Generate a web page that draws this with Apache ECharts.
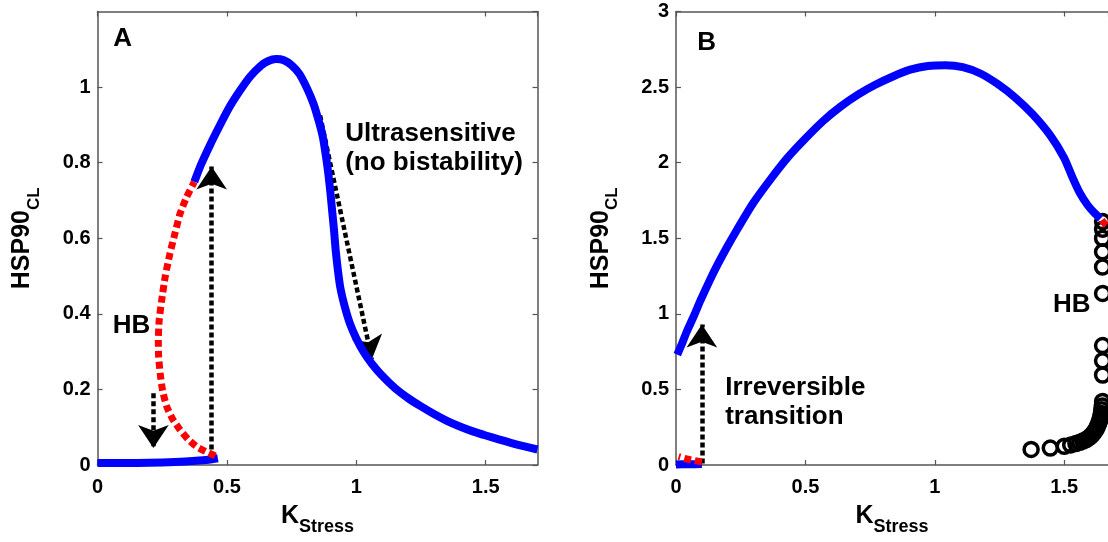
<!DOCTYPE html>
<html>
<head>
<meta charset="utf-8">
<script src="https://cdn.jsdelivr.net/npm/echarts@6/dist/echarts.min.js"></script>
<style>
html, body { margin: 0; padding: 0; background: #fff; }
#chart { width: 1108px; height: 542px; }
</style>
</head>
<body>
<div id="chart"></div>
<script>
// panel A: stable / unstable branches
var lowA = [[0, 0.005], [0.1, 0.005], [0.2, 0.006], [0.3, 0.008], [0.38, 0.011], [0.43, 0.014], [0.465, 0.018]];
var redA = [[0.455, 0.024], [0.42, 0.035], [0.384, 0.048], [0.35, 0.068], [0.319, 0.093], [0.29, 0.122],
    [0.268, 0.154], [0.252, 0.195], [0.242, 0.243], [0.236, 0.29], [0.235, 0.33], [0.238, 0.38],
    [0.248, 0.436], [0.262, 0.5], [0.28, 0.56], [0.3, 0.615], [0.319, 0.665], [0.345, 0.71], [0.374, 0.749]];
var highA = [[0.374, 0.749], [0.4, 0.795], [0.435, 0.847], [0.47, 0.895], [0.51, 0.947], [0.55, 0.99],
    [0.59, 1.028], [0.63, 1.056], [0.66, 1.069], [0.69, 1.074], [0.72, 1.071], [0.75, 1.058],
    [0.78, 1.035], [0.81, 0.996], [0.835, 0.955], [0.855, 0.91], [0.87, 0.87], [0.882, 0.82],
    [0.892, 0.77], [0.9, 0.72], [0.907, 0.67], [0.914, 0.62], [0.92, 0.57], [0.928, 0.52],
    [0.938, 0.47], [0.955, 0.42], [0.975, 0.375], [1.0, 0.335], [1.03, 0.297], [1.06, 0.268],
    [1.1, 0.236], [1.15, 0.203], [1.2, 0.177], [1.25, 0.155], [1.3, 0.135], [1.35, 0.117],
    [1.4, 0.102], [1.45, 0.089], [1.5, 0.078], [1.55, 0.068], [1.6, 0.058], [1.65, 0.049], [1.7, 0.041]];
var arrowsA = [[[0.216, 0.19], [0.216, 0.045]], [[0.441, 0.02], [0.441, 0.79]], [[0.86, 0.925], [1.06, 0.28]]];

// panel B
var lowB = [[0, 0.004], [0.05, 0.005], [0.1, 0.006]];
var redLowB = [[0.1, 0.02], [0.07, 0.03], [0.04, 0.04], [0.01, 0.055]];
var highB = [[0.005, 0.73], [0.02, 0.79], [0.041, 0.88], [0.07, 0.99], [0.095, 1.09], [0.13, 1.22],
    [0.162, 1.33], [0.2, 1.45], [0.23, 1.54], [0.297, 1.73], [0.365, 1.89], [0.432, 2.035],
    [0.5, 2.16], [0.568, 2.275], [0.635, 2.37], [0.703, 2.45], [0.77, 2.515], [0.838, 2.57],
    [0.905, 2.615], [0.973, 2.64], [1.041, 2.645], [1.108, 2.632], [1.176, 2.59], [1.243, 2.52],
    [1.311, 2.43], [1.378, 2.32], [1.446, 2.18], [1.5, 2.03], [1.53, 1.91], [1.56, 1.8],
    [1.59, 1.72], [1.615, 1.67], [1.64, 1.63]];
var redHighB = [[1.645, 1.62], [1.66, 1.59], [1.68, 1.56]];
var orbitB = [[1.372, 0.103], [1.446, 0.112], [1.5, 0.124], [1.525, 0.133], [1.545, 0.142], [1.56, 0.15],
    [1.572, 0.158], [1.583, 0.167], [1.593, 0.178], [1.602, 0.19], [1.61, 0.205], [1.617, 0.22],
    [1.623, 0.237], [1.628, 0.255], [1.633, 0.275], [1.637, 0.295], [1.64, 0.315], [1.643, 0.34],
    [1.645, 0.365], [1.647, 0.39], [1.648, 0.42], [1.648, 0.595], [1.648, 0.69], [1.648, 0.79],
    [1.648, 1.135], [1.648, 1.31], [1.648, 1.41], [1.648, 1.5], [1.648, 1.56], [1.648, 1.61]];
var arrowsB = [[[0.1, 0.01], [0.1, 0.93]]];

// text annotations: [x, y, text]
var labelsA = [[0.097, 1.129, 'A'], [0.131, 0.367, 'HB']];
var noteA = [[0.957, 0.837, 'Ultrasensitive\n(no bistability)']];
var labelsB = [[0.118, 2.79, 'B'], [1.529, 1.058, 'HB']];
var noteB = [[0.19, 0.417, 'Irreversible\ntransition']];

var FONT = '"Liberation Sans", Arial, sans-serif';
var AXC = '#555';

function xAxis(g, pos, max) {
    var main = pos === 'bottom';
    return {
        type: 'value', gridIndex: g, position: pos, min: 0, max: max, interval: 0.5,
        name: main ? '{k|K}{s|Stress}' : '', nameLocation: 'middle', nameGap: 31,
        nameTextStyle: {
            rich: {
                k: { fontSize: 25, fontWeight: 'bold', fontFamily: FONT, color: '#000', lineHeight: 40 },
                s: { fontSize: 18, fontWeight: 'bold', fontFamily: FONT, color: '#000', lineHeight: 23, verticalAlign: 'bottom' }
            }
        },
        axisLine: { show: true, onZero: false, lineStyle: { color: AXC, width: 1.5 } },
        axisTick: { show: true, inside: true, length: 5, lineStyle: { color: AXC, width: 1.2 } },
        axisLabel: { show: main, showMaxLabel: false, margin: 12, fontSize: 20, fontWeight: 'bold', fontFamily: FONT, color: '#000' },
        splitLine: { show: false }
    };
}

function yAxis(g, pos, max, hideMax) {
    var main = pos === 'left';
    return {
        type: 'value', gridIndex: g, position: pos, min: 0, max: max, interval: max > 2 ? 0.5 : 0.2,
        name: main ? '{k|HSP90}{s|CL}' : '', nameLocation: 'middle', nameGap: 55, nameRotate: 90,
        nameTextStyle: {
            rich: {
                k: { fontSize: 25, fontWeight: 'bold', fontFamily: FONT, color: '#000', lineHeight: 40 },
                s: { fontSize: 17, fontWeight: 'bold', fontFamily: FONT, color: '#000', lineHeight: 10, verticalAlign: 'bottom' }
            }
        },
        axisLine: { show: true, onZero: false, lineStyle: { color: AXC, width: 1.5 } },
        axisTick: { show: true, inside: true, length: 5, lineStyle: { color: AXC, width: 1.2 } },
        axisLabel: { show: main, showMaxLabel: !hideMax, margin: 7, fontSize: 20, fontWeight: 'bold', fontFamily: FONT, color: '#000' },
        splitLine: { show: false }
    };
}

function curve(xi, data, color, dashed) {
    return {
        type: 'line', xAxisIndex: xi, yAxisIndex: xi, data: data, showSymbol: false, symbol: 'none',
        smooth: 0.2, silent: true,
        lineStyle: { color: color, width: dashed ? 7 : 8, type: dashed ? [7, 4] : 'solid', cap: 'butt', join: 'round' }
    };
}

function arrows(xi, list) {
    return {
        type: 'lines', coordinateSystem: 'cartesian2d', xAxisIndex: xi, yAxisIndex: xi, silent: true,
        symbol: ['none', 'arrow'], symbolSize: [0, 23],
        lineStyle: { color: '#000', width: 4.5, type: [5, 3], opacity: 1, curveness: 0 },
        data: list.map(function (c) { return { coords: c }; })
    };
}

function texts(xi, list, pos, lh) {
    return {
        type: 'scatter', xAxisIndex: xi, yAxisIndex: xi, symbolSize: 0, silent: true,
        itemStyle: { opacity: 1 },
        data: list.map(function (d) { return { value: [d[0], d[1]], name: d[2] }; }),
        label: {
            show: true, position: pos, distance: 0, formatter: '{b}', align: pos === 'inside' ? 'center' : 'left',
            fontSize: 26, fontWeight: 'bold', fontFamily: FONT, color: '#000', opacity: 1, lineHeight: lh
        }
    };
}

var chart = echarts.init(document.getElementById('chart'), null, { renderer: 'canvas' });
var yRightB = yAxis(1, 'right', 3, false);
yRightB.show = false;
chart.setOption({
    animation: false,
    backgroundColor: '#fff',
    grid: [
        { left: 97.5, top: 11.5, width: 440, height: 453.5 },
        { left: 676, top: 11.5, width: 432, height: 453.5 }
    ],
    xAxis: [xAxis(0, 'bottom', 1.7), xAxis(1, 'bottom', 1.669), xAxis(0, 'top', 1.7), xAxis(1, 'top', 1.669)],
    yAxis: [yAxis(0, 'left', 1.2, true), yAxis(1, 'left', 3, false), yAxis(0, 'right', 1.2, true), yRightB],
    series: [
        curve(0, lowA, '#0000ff', false),
        curve(0, highA, '#0000ff', false),
        curve(0, redA, '#ff0000', true),
        arrows(0, arrowsA),
        texts(0, labelsA, 'inside', 30),
        texts(0, noteA, 'right', 29),

        curve(1, lowB, '#0000ff', false),
        curve(1, highB, '#0000ff', false),
        curve(1, redLowB, '#ff0000', true),
        {
            type: 'scatter', xAxisIndex: 1, yAxisIndex: 1, data: orbitB, symbol: 'circle', symbolSize: 14, silent: true,
            itemStyle: { color: 'rgba(0,0,0,0)', borderColor: '#000', borderWidth: 3.5, opacity: 1 }
        },
        curve(1, redHighB, '#ff0000', true),
        arrows(1, arrowsB),
        texts(1, labelsB, 'inside', 30),
        texts(1, noteB, 'right', 29)
    ]
});
</script>
</body>
</html>
